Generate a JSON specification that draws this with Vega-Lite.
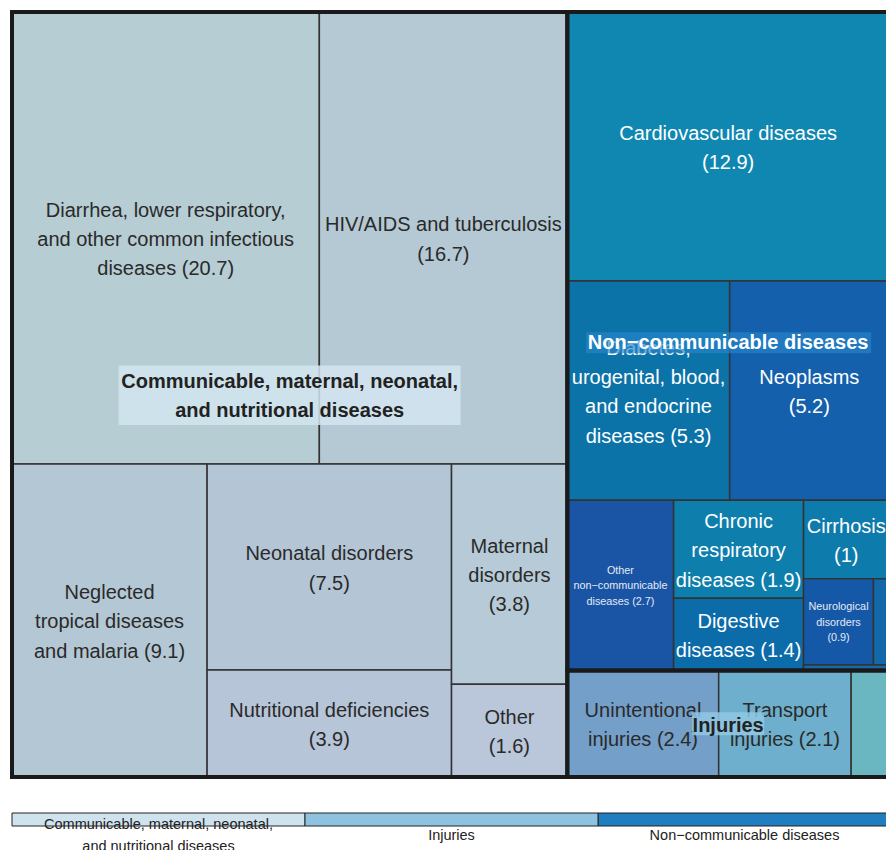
{
  "$schema": "https://vega.github.io/schema/vega-lite/v6.json",
  "padding": {"left": 10, "top": 10, "right": 0, "bottom": 0},
  "background": "white",
  "config": {"view": {"stroke": null}, "font": "Liberation Sans"},
  "data": {
    "values": [
      {"cause": "diarrhea", "group": "Communicable, maternal, neonatal,\nand nutritional diseases", "label": "Diarrhea, lower respiratory,\nand other common infectious\ndiseases (20.7)", "value": 20.7, "p1": 1, "p2": 1, "p3": 1, "p4": 1, "p5": 1},
      {"cause": "hiv", "group": "Communicable, maternal, neonatal,\nand nutritional diseases", "label": "HIV/AIDS and tuberculosis\n(16.7)", "value": 16.7, "p1": 1, "p2": 1, "p3": 2, "p4": 1, "p5": 1},
      {"cause": "ntd", "group": "Communicable, maternal, neonatal,\nand nutritional diseases", "label": "Neglected\ntropical diseases\nand malaria (9.1)", "value": 9.1, "p1": 1, "p2": 2, "p3": 1, "p4": 1, "p5": 1},
      {"cause": "neonatal", "group": "Communicable, maternal, neonatal,\nand nutritional diseases", "label": "Neonatal disorders\n(7.5)", "value": 7.5, "p1": 1, "p2": 2, "p3": 2, "p4": 1, "p5": 1},
      {"cause": "nutrition", "group": "Communicable, maternal, neonatal,\nand nutritional diseases", "label": "Nutritional deficiencies\n(3.9)", "value": 3.9, "p1": 1, "p2": 2, "p3": 2, "p4": 2, "p5": 1},
      {"cause": "maternal", "group": "Communicable, maternal, neonatal,\nand nutritional diseases", "label": "Maternal\ndisorders\n(3.8)", "value": 3.8, "p1": 1, "p2": 2, "p3": 3, "p4": 1, "p5": 1},
      {"cause": "othercomm", "group": "Communicable, maternal, neonatal,\nand nutritional diseases", "label": "Other\n(1.6)", "value": 1.6, "p1": 1, "p2": 2, "p3": 3, "p4": 2, "p5": 1},
      {"cause": "cvd", "group": "Non−communicable diseases", "label": "Cardiovascular diseases\n(12.9)", "value": 12.9, "p1": 2, "p2": 1, "p3": 1, "p4": 1, "p5": 1},
      {"cause": "diabetes", "group": "Non−communicable diseases", "label": "Diabetes,\nurogenital, blood,\nand endocrine\ndiseases (5.3)", "value": 5.3, "p1": 2, "p2": 2, "p3": 1, "p4": 1, "p5": 1},
      {"cause": "neoplasms", "group": "Non−communicable diseases", "label": "Neoplasms\n(5.2)", "value": 5.2, "p1": 2, "p2": 2, "p3": 2, "p4": 1, "p5": 1},
      {"cause": "otherncd", "group": "Non−communicable diseases", "label": "Other\nnon−communicable\ndiseases (2.7)", "value": 2.7, "p1": 2, "p2": 3, "p3": 1, "p4": 1, "p5": 1},
      {"cause": "chronic", "group": "Non−communicable diseases", "label": "Chronic\nrespiratory\ndiseases (1.9)", "value": 1.9, "p1": 2, "p2": 3, "p3": 2, "p4": 1, "p5": 1},
      {"cause": "digestive", "group": "Non−communicable diseases", "label": "Digestive\ndiseases (1.4)", "value": 1.4, "p1": 2, "p2": 3, "p3": 2, "p4": 2, "p5": 1},
      {"cause": "cirrhosis", "group": "Non−communicable diseases", "label": "Cirrhosis\n(1)", "value": 1.0, "p1": 2, "p2": 3, "p3": 3, "p4": 1, "p5": 1},
      {"cause": "neuro", "group": "Non−communicable diseases", "label": "Neurological\ndisorders\n(0.9)", "value": 0.9, "p1": 2, "p2": 3, "p3": 3, "p4": 2, "p5": 1},
      {"cause": "mental", "group": "Non−communicable diseases", "label": "Mental disorders (0.2)", "value": 0.2, "p1": 2, "p2": 3, "p3": 3, "p4": 2, "p5": 2},
      {"cause": "substance", "group": "Non−communicable diseases", "label": "Substance use disorders (0.1)", "value": 0.07, "p1": 2, "p2": 3, "p3": 3, "p4": 3, "p5": 1},
      {"cause": "unintentional", "group": "Injuries", "label": "Unintentional\ninjuries (2.4)", "value": 2.4, "p1": 2, "p2": 4, "p3": 1, "p4": 1, "p5": 1},
      {"cause": "transport", "group": "Injuries", "label": "Transport\ninjuries (2.1)", "value": 2.1, "p1": 2, "p2": 4, "p3": 2, "p4": 1, "p5": 1},
      {"cause": "selfharm", "group": "Injuries", "label": "Self-harm and interpersonal violence (0.6)", "value": 0.6, "p1": 2, "p2": 4, "p3": 3, "p4": 1, "p5": 1}
    ]
  },
  "spacing": 36,
  "bounds": "flush",
  "resolve": {"scale": {"color": "independent", "x": "independent", "y": "independent"}},
  "vconcat": [
    {
      "width": 877,
      "height": 765,
      "transform": [
        {"window": [{"op": "sum", "field": "value", "as": "r1"}], "sort": [{"field": "p1", "order": "ascending"}], "frame": [null, 0]},
        {"joinaggregate": [{"op": "max", "field": "r1", "as": "e1"}, {"op": "sum", "field": "value", "as": "c1"}], "groupby": ["p1"]},
        {"joinaggregate": [{"op": "sum", "field": "value", "as": "s0"}]},
        {"window": [{"op": "sum", "field": "value", "as": "r2"}], "sort": [{"field": "p2", "order": "ascending"}], "groupby": ["p1"], "frame": [null, 0]},
        {"joinaggregate": [{"op": "max", "field": "r2", "as": "e2"}, {"op": "sum", "field": "value", "as": "c2"}], "groupby": ["p1", "p2"]},
        {"window": [{"op": "sum", "field": "value", "as": "r3"}], "sort": [{"field": "p3", "order": "ascending"}], "groupby": ["p1", "p2"], "frame": [null, 0]},
        {"joinaggregate": [{"op": "max", "field": "r3", "as": "e3"}, {"op": "sum", "field": "value", "as": "c3"}], "groupby": ["p1", "p2", "p3"]},
        {"window": [{"op": "sum", "field": "value", "as": "r4"}], "sort": [{"field": "p4", "order": "ascending"}], "groupby": ["p1", "p2", "p3"], "frame": [null, 0]},
        {"joinaggregate": [{"op": "max", "field": "r4", "as": "e4"}, {"op": "sum", "field": "value", "as": "c4"}], "groupby": ["p1", "p2", "p3", "p4"]},
        {"window": [{"op": "sum", "field": "value", "as": "r5"}], "sort": [{"field": "p5", "order": "ascending"}], "groupby": ["p1", "p2", "p3", "p4"], "frame": [null, 0]},
        {"joinaggregate": [{"op": "max", "field": "r5", "as": "e5"}, {"op": "sum", "field": "value", "as": "c5"}], "groupby": ["p1", "p2", "p3", "p4", "p5"]},
        {"calculate": "(datum.e1 - datum.c1) / datum.s0", "as": "xa0"},
        {"calculate": "datum.e1 / datum.s0", "as": "xa1"},
        {"calculate": "(datum.e2 - datum.c2) / datum.c1", "as": "ya0"},
        {"calculate": "datum.e2 / datum.c1", "as": "ya1"},
        {"calculate": "datum.xa0 + (datum.xa1 - datum.xa0) * (datum.e3 - datum.c3) / datum.c2", "as": "xb0"},
        {"calculate": "datum.xa0 + (datum.xa1 - datum.xa0) * datum.e3 / datum.c2", "as": "xb1"},
        {"calculate": "datum.ya0 + (datum.ya1 - datum.ya0) * (datum.e4 - datum.c4) / datum.c3", "as": "y0"},
        {"calculate": "datum.ya0 + (datum.ya1 - datum.ya0) * datum.e4 / datum.c3", "as": "y1"},
        {"calculate": "datum.xb0 + (datum.xb1 - datum.xb0) * (datum.e5 - datum.c5) / datum.c4", "as": "x0"},
        {"calculate": "datum.xb0 + (datum.xb1 - datum.xb0) * datum.e5 / datum.c4", "as": "x1"},
        {"calculate": "(datum.x0 + datum.x1) / 2", "as": "cx"},
        {"calculate": "(datum.y0 + datum.y1) / 2", "as": "cy"},
        {"calculate": "length(split(datum.label, '\\n'))", "as": "nl"}
      ],
      "layer": [
        {
          "mark": {"type": "rect", "stroke": "#333333", "strokeWidth": 1.5},
          "encoding": {
            "x": {"field": "x0", "type": "quantitative", "scale": {"domain": [0, 1], "nice": false, "zero": false}, "axis": null},
            "x2": {"field": "x1"},
            "y": {"field": "y0", "type": "quantitative", "scale": {"domain": [0, 1], "nice": false, "zero": false, "reverse": true}, "axis": null},
            "y2": {"field": "y1"},
            "color": {
              "field": "cause", "type": "nominal", "legend": null,
              "scale": {
                "domain": ["diarrhea", "hiv", "ntd", "neonatal", "nutrition", "maternal", "othercomm", "cvd", "diabetes", "neoplasms", "otherncd", "chronic", "digestive", "cirrhosis", "neuro", "mental", "substance", "unintentional", "transport", "selfharm"],
                "range": ["#b6cdd4", "#b4c9d4", "#b4c7d4", "#b4c5d6", "#b6c5d8", "#b6cad7", "#bac6da", "#1087b1", "#0c73a9", "#1460ac", "#1a55a5", "#0e7eac", "#0c6ba9", "#0e7bad", "#1658a8", "#1368aa", "#136ca9", "#739fc8", "#6eafcd", "#6ab6c1"]
              }
            }
          }
        },
        {
          "transform": [{"filter": "datum.value >= 1 && datum.cause != 'otherncd' && datum.nl == 2"}],
          "mark": {"type": "text", "fontSize": 20, "lineHeight": 29.3, "lineBreak": "\n", "align": "center", "baseline": "middle", "dy": -12.65, "font": "Liberation Sans"},
          "encoding": {
            "x": {"field": "cx", "type": "quantitative"},
            "y": {"field": "cy", "type": "quantitative"},
            "text": {"field": "label"},
            "color": {"condition": {"test": "indexof(datum.group, 'Non') === 0", "value": "#ffffff"}, "value": "#2a2a2a"}
          }
        },
        {
          "transform": [{"filter": "datum.value >= 1 && datum.cause != 'otherncd' && datum.nl == 3"}],
          "mark": {"type": "text", "fontSize": 20, "lineHeight": 29.3, "lineBreak": "\n", "align": "center", "baseline": "middle", "dy": -27.3, "font": "Liberation Sans"},
          "encoding": {
            "x": {"field": "cx", "type": "quantitative"},
            "y": {"field": "cy", "type": "quantitative"},
            "text": {"field": "label"},
            "color": {"condition": {"test": "indexof(datum.group, 'Non') === 0", "value": "#ffffff"}, "value": "#2a2a2a"}
          }
        },
        {
          "transform": [{"filter": "datum.value >= 1 && datum.cause != 'otherncd' && datum.nl == 4"}],
          "mark": {"type": "text", "fontSize": 20, "lineHeight": 29.3, "lineBreak": "\n", "align": "center", "baseline": "middle", "dy": -41.95, "font": "Liberation Sans"},
          "encoding": {
            "x": {"field": "cx", "type": "quantitative"},
            "y": {"field": "cy", "type": "quantitative"},
            "text": {"field": "label"},
            "color": {"condition": {"test": "indexof(datum.group, 'Non') === 0", "value": "#ffffff"}, "value": "#2a2a2a"}
          }
        },
        {
          "transform": [{"filter": "datum.cause == 'otherncd' || datum.cause == 'neuro'"}],
          "mark": {"type": "text", "fontSize": 10.8, "lineHeight": 15.5, "lineBreak": "\n", "align": "center", "baseline": "middle", "dy": -14.5, "font": "Liberation Sans", "color": "#e4eaf4"},
          "encoding": {
            "x": {"field": "cx", "type": "quantitative"},
            "y": {"field": "cy", "type": "quantitative"},
            "text": {"field": "label"}
          }
        },
        {
          "transform": [
            {"aggregate": [{"op": "min", "field": "x0", "as": "gx0"}, {"op": "max", "field": "x1", "as": "gx1"}, {"op": "min", "field": "y0", "as": "gy0"}, {"op": "max", "field": "y1", "as": "gy1"}], "groupby": ["group"]}
          ],
          "mark": {"type": "rect", "fill": "transparent", "stroke": "#1a1a1a", "strokeWidth": 4},
          "encoding": {
            "x": {"field": "gx0", "type": "quantitative"},
            "x2": {"field": "gx1"},
            "y": {"field": "gy0", "type": "quantitative"},
            "y2": {"field": "gy1"}
          }
        },
        {
          "transform": [
            {"aggregate": [{"op": "min", "field": "x0", "as": "gx0"}, {"op": "max", "field": "x1", "as": "gx1"}, {"op": "min", "field": "y0", "as": "gy0"}, {"op": "max", "field": "y1", "as": "gy1"}], "groupby": ["group"]},
            {"calculate": "(datum.gx0 + datum.gx1) / 2", "as": "gcx"},
            {"calculate": "(datum.gy0 + datum.gy1) / 2", "as": "gcy"},
            {"filter": "indexof(datum.group, 'Communicable') === 0"}
          ],
          "mark": {"type": "rect", "fill": "#d2e5f0", "opacity": 0.85, "xOffset": -171, "x2Offset": 171, "yOffset": -29, "y2Offset": 30.5},
          "encoding": {
            "x": {"field": "gcx", "type": "quantitative"},
            "x2": {"field": "gcx"},
            "y": {"field": "gcy", "type": "quantitative"},
            "y2": {"field": "gcy"}
          }
        },
        {
          "transform": [
            {"aggregate": [{"op": "min", "field": "x0", "as": "gx0"}, {"op": "max", "field": "x1", "as": "gx1"}, {"op": "min", "field": "y0", "as": "gy0"}, {"op": "max", "field": "y1", "as": "gy1"}], "groupby": ["group"]},
            {"calculate": "(datum.gx0 + datum.gx1) / 2", "as": "gcx"},
            {"calculate": "(datum.gy0 + datum.gy1) / 2", "as": "gcy"},
            {"filter": "indexof(datum.group, 'Non') === 0"}
          ],
          "mark": {"type": "rect", "fill": "#2785ca", "opacity": 0.67, "xOffset": -142, "x2Offset": 143, "yOffset": -9, "y2Offset": 12},
          "encoding": {
            "x": {"field": "gcx", "type": "quantitative"},
            "x2": {"field": "gcx"},
            "y": {"field": "gcy", "type": "quantitative"},
            "y2": {"field": "gcy"}
          }
        },
        {
          "transform": [
            {"aggregate": [{"op": "min", "field": "x0", "as": "gx0"}, {"op": "max", "field": "x1", "as": "gx1"}, {"op": "min", "field": "y0", "as": "gy0"}, {"op": "max", "field": "y1", "as": "gy1"}], "groupby": ["group"]},
            {"calculate": "(datum.gx0 + datum.gx1) / 2", "as": "gcx"},
            {"calculate": "(datum.gy0 + datum.gy1) / 2", "as": "gcy"},
            {"filter": "datum.group == 'Injuries'"}
          ],
          "mark": {"type": "rect", "fill": "#90c8e4", "opacity": 0.85, "xOffset": -36, "x2Offset": 36, "yOffset": -11.5, "y2Offset": 11.5},
          "encoding": {
            "x": {"field": "gcx", "type": "quantitative"},
            "x2": {"field": "gcx"},
            "y": {"field": "gcy", "type": "quantitative"},
            "y2": {"field": "gcy"}
          }
        },
        {
          "transform": [
            {"aggregate": [{"op": "min", "field": "x0", "as": "gx0"}, {"op": "max", "field": "x1", "as": "gx1"}, {"op": "min", "field": "y0", "as": "gy0"}, {"op": "max", "field": "y1", "as": "gy1"}], "groupby": ["group"]},
            {"calculate": "(datum.gx0 + datum.gx1) / 2", "as": "gcx"},
            {"calculate": "(datum.gy0 + datum.gy1) / 2", "as": "gcy"},
            {"filter": "indexof(datum.group, 'Communicable') === 0"}
          ],
          "mark": {"type": "text", "fontSize": 20, "fontWeight": "bold", "lineHeight": 29, "lineBreak": "\n", "align": "center", "baseline": "middle", "dy": -12.5, "font": "Liberation Sans", "color": "#222222"},
          "encoding": {
            "x": {"field": "gcx", "type": "quantitative"},
            "y": {"field": "gcy", "type": "quantitative"},
            "text": {"field": "group"}
          }
        },
        {
          "transform": [
            {"aggregate": [{"op": "min", "field": "x0", "as": "gx0"}, {"op": "max", "field": "x1", "as": "gx1"}, {"op": "min", "field": "y0", "as": "gy0"}, {"op": "max", "field": "y1", "as": "gy1"}], "groupby": ["group"]},
            {"calculate": "(datum.gx0 + datum.gx1) / 2", "as": "gcx"},
            {"calculate": "(datum.gy0 + datum.gy1) / 2", "as": "gcy"},
            {"filter": "indexof(datum.group, 'Communicable') !== 0"}
          ],
          "mark": {"type": "text", "fontSize": 20, "fontWeight": "bold", "align": "center", "baseline": "middle", "dy": 2, "font": "Liberation Sans"},
          "encoding": {
            "x": {"field": "gcx", "type": "quantitative"},
            "y": {"field": "gcy", "type": "quantitative"},
            "text": {"field": "group"},
            "color": {"condition": {"test": "indexof(datum.group, 'Non') === 0", "value": "#ffffff"}, "value": "#222222"}
          }
        }
      ]
    },
    {
      "width": 879,
      "height": 13,
      "transform": [{"aggregate": [{"op": "count", "as": "n"}], "groupby": ["group"]}],
      "encoding": {
        "x": {
          "field": "group", "type": "nominal",
          "scale": {"paddingInner": 0, "paddingOuter": 0},
          "axis": null
        }
      },
      "layer": [
        {
          "mark": {"type": "rect", "stroke": "#222222", "strokeWidth": 1},
          "encoding": {
            "color": {"field": "group", "type": "nominal", "legend": null, "scale": {"range": ["#cfe3ee", "#8ec3e0", "#1f7dc0"]}}
          }
        },
        {
          "transform": [{"filter": "indexof(datum.group, 'Communicable') !== 0"}],
          "mark": {"type": "text", "fontSize": 14.5, "align": "center", "baseline": "middle", "dy": 16.5, "font": "Liberation Sans", "color": "#222222"},
          "encoding": {"text": {"field": "group"}}
        },
        {
          "transform": [{"filter": "indexof(datum.group, 'Communicable') === 0"}],
          "mark": {"type": "text", "fontSize": 14.5, "lineHeight": 22, "lineBreak": "\n", "align": "center", "baseline": "middle", "dy": 5.5, "font": "Liberation Sans", "color": "#222222"},
          "encoding": {"text": {"field": "group"}}
        }
      ]
    }
  ]
}
